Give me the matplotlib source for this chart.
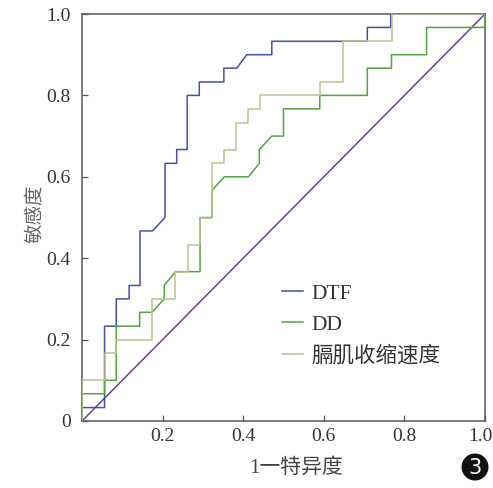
import matplotlib
matplotlib.use("Agg")
import matplotlib.pyplot as plt
import matplotlib.transforms as mtransforms
from matplotlib.patches import Circle

plt.rcParams['font.family'] = ['Liberation Serif', 'Noto Sans CJK SC', 'DejaVu Sans']

# ROC curves (1 - specificity, sensitivity)
dtf_x = [0, 0, 0.056, 0.056, 0.085, 0.085, 0.117, 0.117, 0.144, 0.144, 0.175, 0.206, 0.206,
         0.235, 0.235, 0.261, 0.261, 0.291, 0.291, 0.352, 0.352, 0.384, 0.409, 0.471, 0.471,
         0.708, 0.708, 0.766, 0.766, 1.0]
dtf_y = [0, 0.033, 0.033, 0.233, 0.233, 0.3, 0.3, 0.333, 0.333, 0.467, 0.467, 0.5, 0.633,
         0.633, 0.667, 0.667, 0.8, 0.8, 0.833, 0.833, 0.867, 0.867, 0.9, 0.9, 0.933,
         0.933, 0.967, 0.967, 1.0, 1.0]

dd_x = [0, 0, 0.056, 0.056, 0.085, 0.085, 0.143, 0.143, 0.174, 0.204, 0.204, 0.232, 0.293,
        0.293, 0.323, 0.323, 0.353, 0.413, 0.44, 0.44, 0.471, 0.5, 0.5, 0.59, 0.59, 0.708,
        0.708, 0.768, 0.768, 0.855, 0.855, 1.0, 1.0]
dd_y = [0, 0.067, 0.067, 0.1, 0.1, 0.233, 0.233, 0.267, 0.267, 0.3, 0.333, 0.367, 0.367,
        0.5, 0.5, 0.567, 0.6, 0.6, 0.633, 0.667, 0.7, 0.7, 0.767, 0.767, 0.8, 0.8,
        0.867, 0.867, 0.9, 0.9, 0.967, 0.967, 1.0]

dcv_x = [0, 0, 0.056, 0.056, 0.085, 0.085, 0.174, 0.174, 0.232, 0.232, 0.264, 0.264, 0.293,
         0.293, 0.323, 0.323, 0.353, 0.353, 0.381, 0.381, 0.412, 0.412, 0.442, 0.442, 0.59,
         0.59, 0.648, 0.648, 0.768, 0.768, 1.0]
dcv_y = [0, 0.1, 0.1, 0.167, 0.167, 0.2, 0.2, 0.3, 0.3, 0.367, 0.367, 0.433, 0.433,
         0.5, 0.5, 0.633, 0.633, 0.667, 0.667, 0.733, 0.733, 0.767, 0.767, 0.8, 0.8,
         0.833, 0.833, 0.933, 0.933, 1.0, 1.0]

ref_line = [0, 1]
labels = ['DTF', 'DD', '膈肌收缩速度']
colors = ['#4750a6', '#4fa83a', '#b9c48f']

fig = plt.figure(figsize=(4.93, 4.88), dpi=100)
ax = fig.add_axes([0.1663, 0.1373, 0.8175, 0.834])

ax.plot(dtf_x, dtf_y, color=colors[0], lw=1.1, label=labels[0], zorder=3)
ax.plot(dd_x, dd_y, color=colors[1], lw=1.1, label=labels[1], zorder=4)
ax.plot(dcv_x, dcv_y, color=colors[2], lw=1.1, label=labels[2], zorder=5)
ax.plot(ref_line, ref_line, color='#70408a', lw=1.1, zorder=2)

ax.set_xlim(0, 1)
ax.set_ylim(0, 1)
ax.set_xticks([0.2, 0.4, 0.6, 0.8, 1.0])
ax.set_xticklabels(['0.2', '0.4', '0.6', '0.8', '1.0'])
ax.set_yticks([0, 0.2, 0.4, 0.6, 0.8, 1.0])
ax.set_yticklabels(['0', '0.2', '0.4', '0.6', '0.8', '1.0'])
ax.tick_params(direction='in', length=4.5, width=0.9, colors='#555555',
               labelcolor='#333333', labelsize=14)
ax.tick_params(axis='x', pad=5)
ax.tick_params(axis='y', pad=8)
for s in ax.spines.values():
    s.set_color('#5a5a5a')
    s.set_linewidth(1.1)

# nudge the last x label left so it stays inside the figure
last = ax.get_xticklabels()[-1]
last.set_transform(last.get_transform() +
                   mtransforms.ScaledTranslation(-5 / 100, 0, fig.dpi_scale_trans))

ax.set_xlabel('1一特异度', fontsize=15, color='#444444')
ax.xaxis.set_label_coords(0.531, -0.092)
ax.set_ylabel('敏感度', fontsize=14, color='#666666')
ax.yaxis.set_label_coords(-0.095, 0.51)

ax.legend(loc='upper left', bbox_to_anchor=(0.4975, 0.337), frameon=False,
          fontsize=15.5, handlelength=0.95, handletextpad=0.4, labelspacing=0.5,
          borderpad=0, borderaxespad=0, labelcolor='#333333')

# panel number: black disc with a white 3
badge = (4.75, 0.21)
fig.add_artist(Circle(badge, 0.135, transform=fig.dpi_scale_trans,
                      facecolor='#111111', edgecolor='none'))
fig.text(badge[0], badge[1] - 0.005, '3', transform=fig.dpi_scale_trans,
         fontsize=15, family='DejaVu Sans', color='white', ha='center', va='center')

fig.savefig('out.png', dpi=100)
